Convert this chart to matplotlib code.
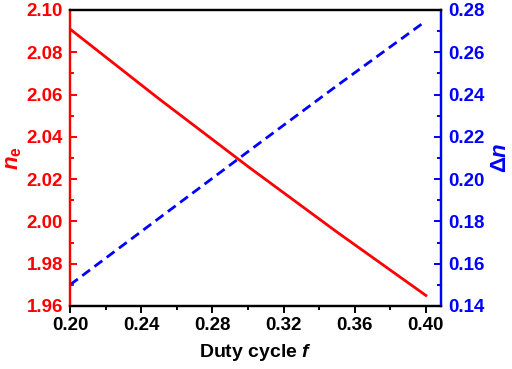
import numpy as np
import matplotlib.pyplot as plt
from matplotlib.ticker import MultipleLocator

plt.rcParams['font.family'] = ['Liberation Sans', 'DejaVu Sans']
plt.rcParams['font.weight'] = 'bold'
plt.rcParams['mathtext.fontset'] = 'custom'
plt.rcParams['mathtext.it'] = 'Liberation Sans:italic:bold'
plt.rcParams['mathtext.rm'] = 'Liberation Sans:bold'

# datos
duty = [0.20, 0.25, 0.30, 0.35, 0.40]
n_e = [2.091, 2.058, 2.026, 1.995, 1.965]
delta_n = [0.150, 0.1815, 0.213, 0.2442, 0.2748]

RED = '#ff0000'
BLUE = '#0000ff'

fig = plt.figure(figsize=(5.12, 3.69), dpi=100)
ax = fig.add_axes([70/512, 1 - 306/369, 371/512, 296/369])
ax2 = ax.twinx()

ax.plot(duty, n_e, color=RED, lw=2)
ax2.plot(duty, delta_n, color=BLUE, lw=2, ls=(0, (3.5, 2)))

ax.set_xlim(0.20, 0.4085)
ax.set_ylim(1.96, 2.10)
ax2.set_ylim(0.14, 0.28)

ax.xaxis.set_major_locator(MultipleLocator(0.04))
ax.xaxis.set_minor_locator(MultipleLocator(0.02))
ax.yaxis.set_major_locator(MultipleLocator(0.02))
ax.yaxis.set_minor_locator(MultipleLocator(0.01))
ax2.yaxis.set_major_locator(MultipleLocator(0.02))
ax2.yaxis.set_minor_locator(MultipleLocator(0.01))
ax.xaxis.set_major_formatter(plt.FormatStrFormatter('%.2f'))
ax.yaxis.set_major_formatter(plt.FormatStrFormatter('%.2f'))
ax2.yaxis.set_major_formatter(plt.FormatStrFormatter('%.2f'))

for a in (ax, ax2):
    for s in a.spines.values():
        s.set_linewidth(1.6)
ax.spines['left'].set_color(RED)
ax2.spines['left'].set_color(RED)
ax2.spines['right'].set_color(BLUE)

ax.tick_params(axis='x', which='both', direction='out', labelsize=13.5, width=1.4, pad=3)
ax.tick_params(axis='x', which='major', length=5)
ax.tick_params(axis='x', which='minor', length=3)
ax.tick_params(axis='y', which='both', direction='in', colors=RED, labelsize=13.5, width=1.4, pad=5)
ax.tick_params(axis='y', which='major', length=5)
ax.tick_params(axis='y', which='minor', length=3)
ax2.tick_params(axis='y', which='both', direction='in', colors=BLUE, labelsize=13.5, width=1.4, pad=5)
ax2.tick_params(axis='y', which='major', length=5)
ax2.tick_params(axis='y', which='minor', length=3)

ax.set_xlabel('Duty cycle $f$', fontsize=14, fontweight='bold', labelpad=6)
ax.set_ylabel(r'$n_{\mathrm{e}}$', fontsize=16, color=RED, labelpad=2)
ax2.set_ylabel(r'$\Delta n$', fontsize=16, color=BLUE, rotation=90, labelpad=4)

fig.savefig('out.png', dpi=100)
